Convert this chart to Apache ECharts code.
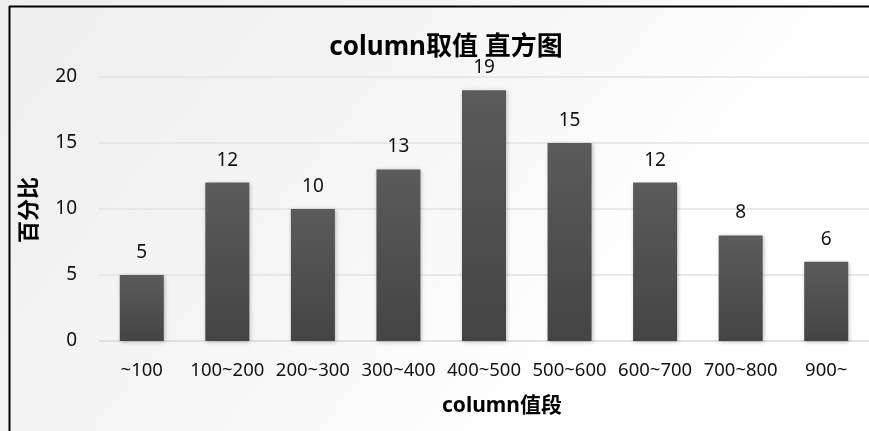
<!DOCTYPE html>
<html>
<head>
<meta charset="utf-8">
<script src="https://cdn.jsdelivr.net/npm/echarts@6/dist/echarts.min.js"></script>
<style>html,body{margin:0;padding:0;}#c{width:869px;height:431px;}</style>
</head>
<body>
<div id="c"></div>
<script>
const categories = ['~100','100~200','200~300','300~400','400~500','500~600','600~700','700~800','900~'];
const values = [5, 12, 10, 13, 19, 15, 12, 8, 6];
const yTicks = [0, 5, 10, 15, 20];
const titleText = 'column取值 直方图';
const xName = 'column值段';
const yName = '百分比';

const chart = echarts.init(document.getElementById('c'), null, {renderer: 'canvas'});
const font = '"Noto Sans", "Noto Sans CJK SC", sans-serif';
chart.setOption({
  backgroundColor: {
    type: 'linear', x: 0, y: 0, x2: 0.6, y2: 1,
    colorStops: [{offset: 0, color: '#eeeeee'}, {offset: 0.6, color: '#f6f6f6'}, {offset: 1, color: '#ffffff'}]
  },
  animation: false,
  title: {
    text: titleText,
    left: 441, top: 30, textAlign: 'center',
    textStyle: {fontFamily: font, fontSize: 26, fontWeight: 'bold', color: '#000'}
  },
  graphic: [
    {type: 'line', shape: {x1: 9.5, y1: 6, x2: 9.5, y2: 431}, style: {stroke: '#000', lineWidth: 2}},
    {type: 'line', shape: {x1: 9, y1: 6.5, x2: 869, y2: 6.5}, style: {stroke: '#000', lineWidth: 2}},
    {type: 'text', left: 19, top: 177, rotation: Math.PI/2,
     style: {text: yName, font: 'bold 22px ' + font, fill: '#000'}},
    {type: 'text', left: 442, top: 396,
     style: {text: xName, font: 'bold 21px ' + font, fill: '#000', textAlign: 'center'}}
  ],
  grid: {left: 99, right: -2, top: 77, bottom: 90, containLabel: false},
  xAxis: {
    type: 'category', data: categories,
    axisLine: {lineStyle: {color: '#d9dee5', width: 1.5}},
    axisTick: {show: false},
    axisLabel: {fontFamily: font, fontSize: 18.5, color: '#111', margin: 20, interval: 0}
  },
  yAxis: {
    type: 'value', min: yTicks[0], max: yTicks[yTicks.length-1], interval: 5,
    axisLine: {show: false}, axisTick: {show: false},
    axisLabel: {fontFamily: font, fontSize: 19, color: '#111', margin: 22},
    splitLine: {lineStyle: {color: '#dde3ea', width: 1.5}}
  },
  series: [{
    type: 'bar', data: values, barWidth: 44,
    itemStyle: {
      color: {type: 'linear', x: 0, y: 0, x2: 0, y2: 1,
        colorStops: [{offset: 0, color: '#5b5b5b'}, {offset: 1, color: '#444444'}]},
      shadowColor: 'rgba(0,0,0,0.25)', shadowBlur: 4, shadowOffsetX: 1, shadowOffsetY: 1
    },
    label: {show: true, position: 'top', distance: 13,
      fontFamily: font, fontSize: 19, color: '#111'}
  }]
});
</script>
</body>
</html>
